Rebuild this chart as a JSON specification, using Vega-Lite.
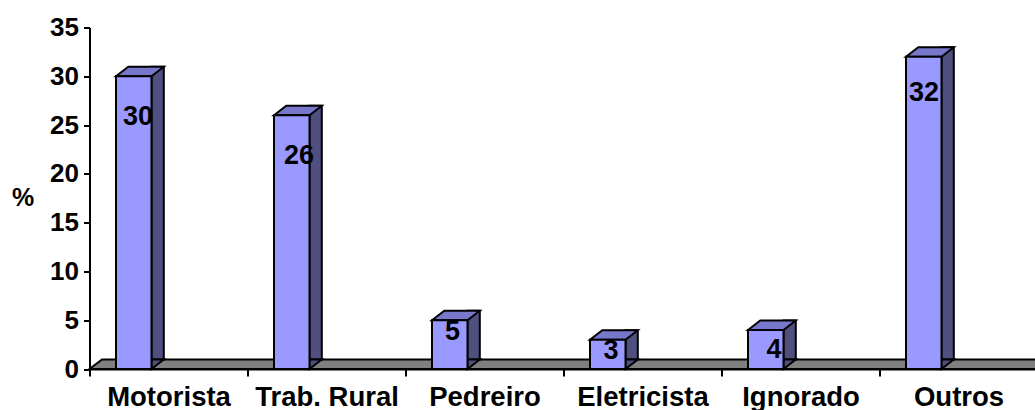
{
"$schema":"https://vega.github.io/schema/vega-lite/v6.json",
"width":945.5,"height":341.5,
"autosize":{"type":"none"},
"padding":{"left":89.5,"top":27.5,"right":0,"bottom":41},
"background":"white",
"config":{"view":{"stroke":null},"font":"Liberation Sans"},
"data":{"values":[
{"ocupacao":"Motorista","pct":30},
{"ocupacao":"Trab. Rural","pct":26},
{"ocupacao":"Pedreiro","pct":5},
{"ocupacao":"Eletricista","pct":3},
{"ocupacao":"Ignorado","pct":4},
{"ocupacao":"Outros","pct":32}]},
"encoding":{
"x":{"field":"ocupacao","type":"nominal","sort":null,"title":null,
"scale":{"type":"band","paddingInner":0,"paddingOuter":0,"range":[0,948]},
"axis":{"labelAngle":0,"labelFont":"Liberation Sans","labelFontWeight":"bold","labelFontSize":27.5,"labelColor":"#000","labelPadding":7,"labelBaseline":"top","tickBand":"extent","tickSize":7,"tickWidth":2,"tickColor":"#000","domainColor":"#000","domainWidth":2,"labelOverlap":false,"zindex":1,"grid":false}},
"y":{"field":"pct","type":"quantitative","title":"%",
"scale":{"domain":[0,35],"nice":false},
"axis":{"values":[0,5,10,15,20,25,30,35],"labelFont":"Liberation Sans","labelFontWeight":"bold","labelFontSize":26,"labelColor":"#000","labelPadding":5,"tickSize":6,"tickWidth":2,"tickColor":"#000","domainColor":"#000","domainWidth":2,"titleFont":"Liberation Sans","titleFontWeight":"bold","titleFontSize":25,"titleColor":"#000","titleAngle":0,"titleAlign":"center","titleBaseline":"middle","titleX":-67,"titleY":170,"grid":false,"zindex":1}}
},
"layer":[
{"transform":[{"filter":"datum.ocupacao==='Motorista'"}],
 "mark":{"type":"point","filled":true,"opacity":1,"size":4,"fill":"#808080","stroke":"#000","strokeWidth":2,"shape":"M-79,0L-66.5,-9.5L900,-9.5L890,0Z"},
 "encoding":{"y":{"datum":0}}},
{"mark":{"type":"bar","size":12.3,"xOffset":-10.85,"yOffset":-9.5,"fill":"#4F4F80","stroke":"#000","strokeWidth":2}},
{"mark":{"type":"point","filled":true,"opacity":1,"size":4,"fill":"#4F4F80","stroke":"#000","strokeWidth":2,"shape":"M-17,0L-4.7,-9.5L-17,-9.5Z"},"encoding":{"y":{"datum":0}}},
{"mark":{"type":"point","filled":true,"opacity":1,"size":4,"fill":"#7777CC","stroke":"#000","strokeWidth":2,"shape":"M-52.5,0L-40.2,-9.5L-4.7,-9.5L-17,0Z"}},
{"mark":{"type":"bar","size":35.5,"xOffset":-34.75,"fill":"#9999FF","stroke":"#000","strokeWidth":2}},
{"transform":[{"filter":"datum.ocupacao==='Motorista'"}],"mark":{"type":"text","font":"Liberation Sans","fontWeight":"bold","fontSize":27,"color":"#000","dx":-30.5,"dy":41},"encoding":{"text":{"field":"pct"}}},
{"transform":[{"filter":"datum.ocupacao==='Trab. Rural'"}],"mark":{"type":"text","font":"Liberation Sans","fontWeight":"bold","fontSize":27,"color":"#000","dx":-27.5,"dy":41},"encoding":{"text":{"field":"pct"}}},
{"transform":[{"filter":"datum.ocupacao==='Pedreiro'"}],"mark":{"type":"text","font":"Liberation Sans","fontWeight":"bold","fontSize":27,"color":"#000","dx":-32,"dy":12},"encoding":{"text":{"field":"pct"}}},
{"transform":[{"filter":"datum.ocupacao==='Eletricista'"}],"mark":{"type":"text","font":"Liberation Sans","fontWeight":"bold","fontSize":27,"color":"#000","dx":-31.5,"dy":11},"encoding":{"text":{"field":"pct"}}},
{"transform":[{"filter":"datum.ocupacao==='Ignorado'"}],"mark":{"type":"text","font":"Liberation Sans","fontWeight":"bold","fontSize":27,"color":"#000","dx":-26.5,"dy":20},"encoding":{"text":{"field":"pct"}}},
{"transform":[{"filter":"datum.ocupacao==='Outros'"}],"mark":{"type":"text","font":"Liberation Sans","fontWeight":"bold","fontSize":27,"color":"#000","dx":-34.5,"dy":36},"encoding":{"text":{"field":"pct"}}}
]
}
